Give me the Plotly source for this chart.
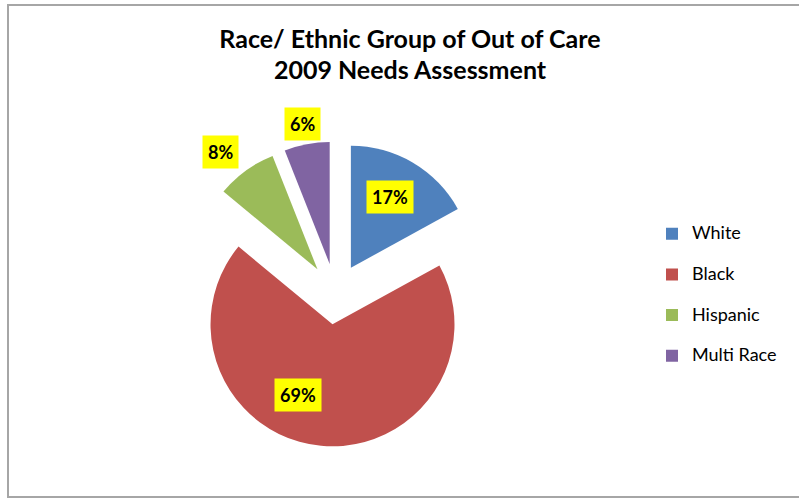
import math
import plotly.graph_objects as go

# ---- data ----
categories = ["White", "Black", "Hispanic", "Multi Race"]
values = [17, 69, 8, 6]
title_lines = ["Race/ Ethnic Group of Out of Care", "2009 Needs Assessment"]

# ---- styles ----
colors = ["#4F81BD", "#C0504D", "#9BBB59", "#8064A2"]
pull = 0.25
label_radius = [0.91, 0.88, 1.50, 1.42]      # label distance from pie centre (x radius)
label_angle_shift = [-1.0, 15.0, -3.0, 0.0]  # degrees
FONT = "Lato"

W, H = 799, 502
dom_x = [0.2289, 0.6106]
dom_y = [0.1106, 0.7181]

fig = go.Figure()
fig.add_trace(go.Pie(
    labels=[f"<span style='font-size:18px'>{c}</span><br>&nbsp;" for c in categories],
    values=values,
    sort=False,
    direction="clockwise",
    rotation=0,
    pull=[pull] * len(values),
    marker=dict(colors=colors, line=dict(width=0)),
    textinfo="none",
    hoverinfo="percent",
    domain=dict(x=dom_x, y=dom_y),
))

# geometry as plotly computes it
box_w = W * (dom_x[1] - dom_x[0])
box_h = H * (dom_y[1] - dom_y[0])
r = min(box_w, box_h) / 2 / (1 + pull)
cx = W * (dom_x[0] + dom_x[1]) / 2
cy = H * (1 - dom_y[0]) - box_h / 2  # from top

total = sum(values)
cum = 0
annotations = []
for i, v in enumerate(values):
    mid = (cum + v / 2) / total * 360 + label_angle_shift[i]
    cum += v
    a = math.radians(mid)
    px = cx + label_radius[i] * r * math.sin(a)
    py = cy - label_radius[i] * r * math.cos(a)
    annotations.append(dict(
        x=px / W, y=1 - py / H, xref="paper", yref="paper",
        xanchor="center", yanchor="middle",
        text=f"{round(v / total * 100)}%", showarrow=False,
        bgcolor="#FFFF00", borderpad=5,
        font=dict(family=FONT, size=18, color="black", weight="bold"),
    ))

fig.update_layout(
    width=W, height=H,
    margin=dict(l=0, r=0, t=0, b=0),
    paper_bgcolor="white",
    plot_bgcolor="white",
    font=dict(family=FONT, color="black"),
    title=dict(
        text="<br>".join(f"<span style='font-size:25px'>{t}</span>" for t in title_lines),
        x=410 / W, xanchor="center",
        y=1 - 48 / H, yanchor="middle", yref="container",
        font=dict(family=FONT, size=24, color="black", weight="bold"),
    ),
    legend=dict(
        x=652 / W, xanchor="left",
        y=1 - 217.75 / H, yanchor="top",
        valign="top",
        font=dict(family=FONT, size=14.5, color="black"),
        bgcolor="rgba(0,0,0,0)",
    ),
    annotations=annotations,
    shapes=[dict(
        type="rect", xref="paper", yref="paper",
        x0=8 / W, x1=1.01, y0=1 - 497 / H, y1=1 - 5 / H,
        line=dict(color="#A6A6A6", width=2), fillcolor="rgba(0,0,0,0)",
        layer="below",
    )],
)

fig.write_html("out.html")
